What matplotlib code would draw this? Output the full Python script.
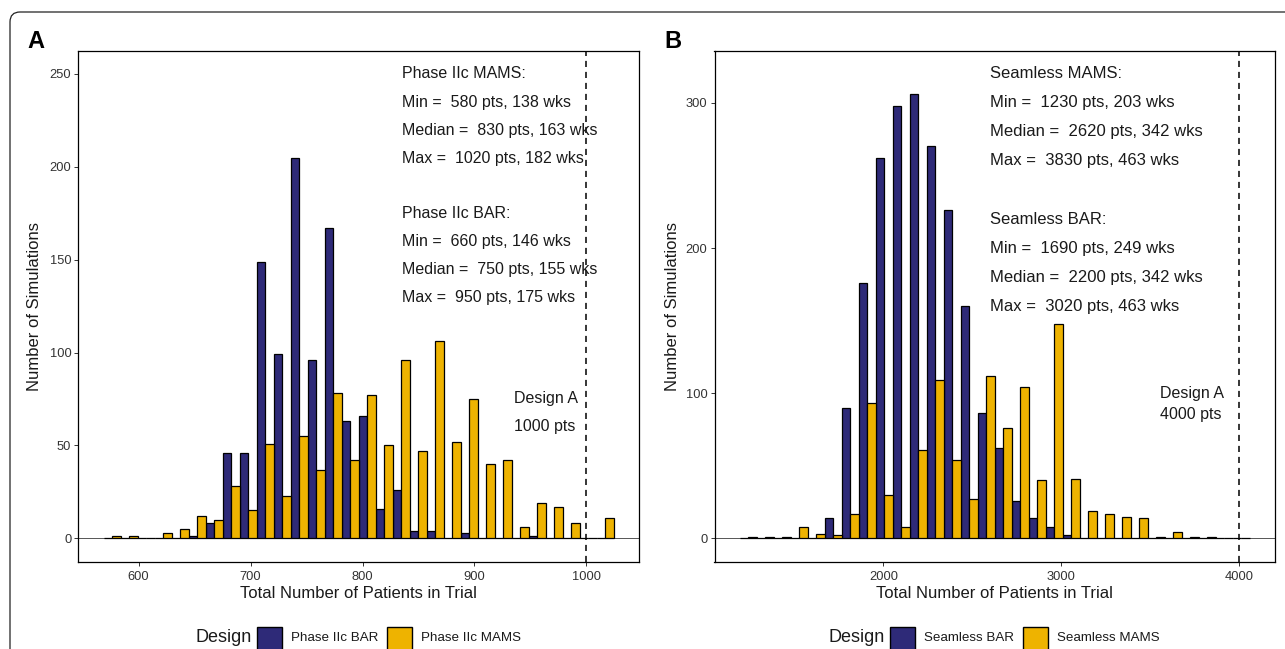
import math
import matplotlib
matplotlib.use("Agg")
import matplotlib.pyplot as plt
from matplotlib.patches import Rectangle, FancyBboxPatch
from matplotlib.transforms import IdentityTransform

plt.rcParams["font.family"] = ["Liberation Sans", "DejaVu Sans"]

# --- data (counts per histogram bin, 30 bins each) ---
RANGE_A = (580, 1020)       # pooled min / max of the simulated trial sizes
BAR_A = [0, 0, 0, 0, 0, 1, 8, 46, 46, 149, 99, 205, 96, 167, 63,
         66, 16, 26, 4, 4, 0, 3, 0, 0, 0, 1, 0, 0, 0, 0]
MAMS_A = [1, 1, 0, 3, 5, 12, 10, 28, 15, 51, 23, 55, 37, 78, 42,
          77, 50, 96, 47, 106, 52, 75, 40, 42, 6, 19, 17, 8, 0, 11]

RANGE_B = (1230, 4000)
BAR_B = [0, 0, 0, 0, 0, 14, 90, 176, 262, 298, 306, 270, 226, 160, 86,
         62, 26, 14, 8, 2, 0, 0, 0, 0, 0, 0, 0, 0, 0, 0]
MAMS_B = [1, 1, 1, 8, 3, 2, 17, 93, 30, 8, 61, 109, 54, 27, 112,
          76, 104, 40, 148, 41, 19, 17, 15, 14, 1, 4, 1, 1, 0, 0]

LABELS_A = ["Phase IIc BAR", "Phase IIc MAMS"]
LABELS_B = ["Seamless BAR", "Seamless MAMS"]
NOTES_A = [["Phase IIc MAMS:", "Min =  580 pts, 138 wks",
            "Median =  830 pts, 163 wks", "Max =  1020 pts, 182 wks"],
           ["Phase IIc BAR:", "Min =  660 pts, 146 wks",
            "Median =  750 pts, 155 wks", "Max =  950 pts, 175 wks"]]
NOTES_B = [["Seamless MAMS:", "Min =  1230 pts, 203 wks",
            "Median =  2620 pts, 342 wks", "Max =  3830 pts, 463 wks"],
           ["Seamless BAR:", "Min =  1690 pts, 249 wks",
            "Median =  2200 pts, 342 wks", "Max =  3020 pts, 463 wks"]]
DESIGN_A = [1000, 4000]

NAVY = "#2E2A78"
GOLD = "#EEB300"
INK = "#1a1a1a"
TICK = "#333333"

W, H = 1285, 649
fig = plt.figure(figsize=(W / 100, H / 100), dpi=100)
fig.patch.set_facecolor("white")


def px(x0, y0, x1, y1):
    return [x0 / W, 1 - y1 / H, (x1 - x0) / W, (y1 - y0) / H]


def bins(rng, n=30):
    # ggplot2 default binning: width = range/(bins-1), boundary = width/2
    lo, hi = rng
    w = (hi - lo) / (n - 1)
    b = w / 2
    origin = b + math.floor((lo - b) / w) * w
    centers = [origin + w / 2 + i * w for i in range(n)]
    return centers, w


def panel(ax, rng, bar, mams, ylim, yticks, xticks, notes, note_x, note_y,
          vline, design_xy, design_dy, note_size):
    centers, w = bins(rng)
    left = [c - w / 4 for c in centers]
    right = [c + w / 4 for c in centers]
    ax.axhline(0, color="#555555", lw=0.7, zorder=1)
    ax.bar(left, bar, width=w / 2, color=NAVY, edgecolor="black", lw=0.9, zorder=2)
    ax.bar(right, mams, width=w / 2, color=GOLD, edgecolor="black", lw=0.9, zorder=2)
    ax.axvline(vline, color="black", lw=1.1, ls=(0, (4, 3.2)), zorder=3)

    lo_edge = centers[0] - w / 2
    hi_edge = centers[-1] + w / 2
    pad = (hi_edge - lo_edge) * 0.05
    ax.set_xlim(lo_edge - pad, hi_edge + pad)
    ax.set_ylim(*ylim)
    ax.set_xticks(xticks)
    ax.set_yticks(yticks)
    ax.tick_params(axis="x", length=3.2, width=0.7, color=TICK, labelsize=9.3,
                   labelcolor=TICK, pad=3.5)
    ax.tick_params(axis="y", length=3.2, width=0.7, color=TICK, labelsize=9.3,
                   labelcolor=TICK, pad=1.8)
    for s in ax.spines.values():
        s.set_linewidth(0.9)
        s.set_color("black")

    for block, y0 in zip(notes, note_y):
        for i, line in enumerate(block):
            ax.text(note_x, y0 - i * note_y[2], line, ha="left", va="center",
                    fontsize=note_size, color=INK)
    dx, dy = design_xy
    ax.text(dx, dy, "Design A", ha="left", va="center", fontsize=11.5, color=INK)
    ax.text(dx, dy - design_dy, f"{vline} pts", ha="left", va="center",
            fontsize=11.5, color=INK)

    ax.set_xlabel("Total Number of Patients in Trial", fontsize=12, color=INK)
    ax.set_ylabel("Number of Simulations", fontsize=12, color=INK)


axA = fig.add_axes(px(78.3, 50.7, 639, 561.5))
axB = fig.add_axes(px(714.5, 50.7, 1275.3, 561.5))

panel(axA, RANGE_A, BAR_A, MAMS_A, (-12.5, 262.5), [0, 50, 100, 150, 200, 250],
      [600, 700, 800, 900, 1000], NOTES_A, 835.5, (250, 175, 15.2),
      DESIGN_A[0], (935.5, 75), 15, 11.5)
panel(axB, RANGE_B, BAR_B, MAMS_B, (-16, 336), [0, 100, 200, 300],
      [2000, 3000, 4000], NOTES_B, 2600, (320, 220, 20),
      DESIGN_A[1], (3554, 100), 15, 12.0)

axA.yaxis.set_label_coords(-0.0655, 0.5)
axB.yaxis.set_label_coords(-0.062, 0.5)
axA.xaxis.set_label_coords(0.5, -0.047)
axB.xaxis.set_label_coords(0.5, -0.047)

# panel letters
fig.text(27 / W, 1 - 41 / H, "A", fontsize=17, fontweight="bold", va="center", ha="left")
fig.text(664 / W, 1 - 41 / H, "B", fontsize=17, fontweight="bold", va="center", ha="left")

renderer = fig.canvas.get_renderer()


# legends: laid out left to right in pixels, centred under each panel
def legend(ax, labels):
    items = [fig.text(0, 1 - 638 / H, "Design", fontsize=13, color=INK,
                      ha="left", va="center")]
    items += [fig.text(0, 1 - 638 / H, lab, fontsize=9.6, color=INK,
                       ha="left", va="center") for lab in labels]
    wd = [t.get_window_extent(renderer).width for t in items]
    total = wd[0] + 5 + 25 + 9 + wd[1] + 9 + 25 + 10 + wd[2]
    bb = ax.get_window_extent(renderer)
    x = (bb.x0 + bb.x1) / 2 - total / 2
    items[0].set_x(x / W)
    x += wd[0] + 5
    for k, (col, t) in enumerate(zip([NAVY, GOLD], items[1:])):
        fig.add_artist(Rectangle((x / W, 1 - 652 / H), 25 / W, 25 / H,
                                 transform=fig.transFigure, facecolor=col,
                                 edgecolor="black", lw=1.0))
        x += 25 + 9
        t.set_x(x / W)
        x += wd[1 + k] + 9


legend(axA, LABELS_A)
legend(axB, LABELS_B)

# rounded frame around the whole figure
frame = FancyBboxPatch((10, -20), 1300, 657, boxstyle="round,pad=0,rounding_size=10",
                       transform=IdentityTransform(), facecolor="none",
                       edgecolor="#222222", lw=0.9)
fig.add_artist(frame)

fig.savefig("out.png", dpi=100, facecolor="white")
